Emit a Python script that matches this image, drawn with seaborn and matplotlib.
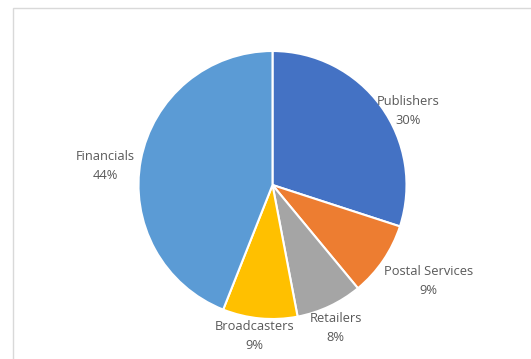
import matplotlib
matplotlib.use("Agg")
import matplotlib.pyplot as plt
import seaborn as sns
from matplotlib.patches import Rectangle

sns.set_theme(style="white")
plt.rcParams['font.family'] = ['Open Sans', 'DejaVu Sans']

categories = ["Publishers", "Postal Services", "Retailers", "Broadcasters", "Financials"]
values = [30, 9, 8, 9, 44]
pct_labels = ["30%", "9%", "8%", "9%", "44%"]
colors = ["#4472C4", "#ED7D31", "#A5A5A5", "#FFC000", "#5B9BD5"]

# label positions in units of pie radius (layout)
label_offsets = [(1.015, 0.55), (1.165, -0.715), (0.47, -1.065), (-0.135, -1.125), (-1.245, 0.14)]

W, H = 531, 359
fig = plt.figure(figsize=(W / 100, H / 100), dpi=100)
fig.patch.set_facecolor("white")
ax = fig.add_axes([0, 0, 1, 1])

cx, cy, R = 272.5, 185.0, 134.0
ax.pie(values, colors=colors, startangle=90, counterclock=False, radius=1,
       wedgeprops=dict(edgecolor="white", linewidth=1.5))
ax.set_aspect("auto")
ax.set_xlim(-cx / R, (W - cx) / R)
ax.set_ylim(-(H - cy) / R, cy / R)
ax.axis("off")

for name, pct, (lx, ly) in zip(categories, pct_labels, label_offsets):
    ax.text(lx, ly, f"{name}\n{pct}", ha="center", va="center",
            fontsize=9.3, color="#595959", linespacing=1.6)

# chart area frame
fig.patches.append(Rectangle((12.5 / W, -0.05), 1.2, 1 - 7.5 / H + 0.05,
                             transform=fig.transFigure, fill=False,
                             edgecolor="#D9D9D9", linewidth=1.0))

fig.savefig("out.png", dpi=100, facecolor="white")
